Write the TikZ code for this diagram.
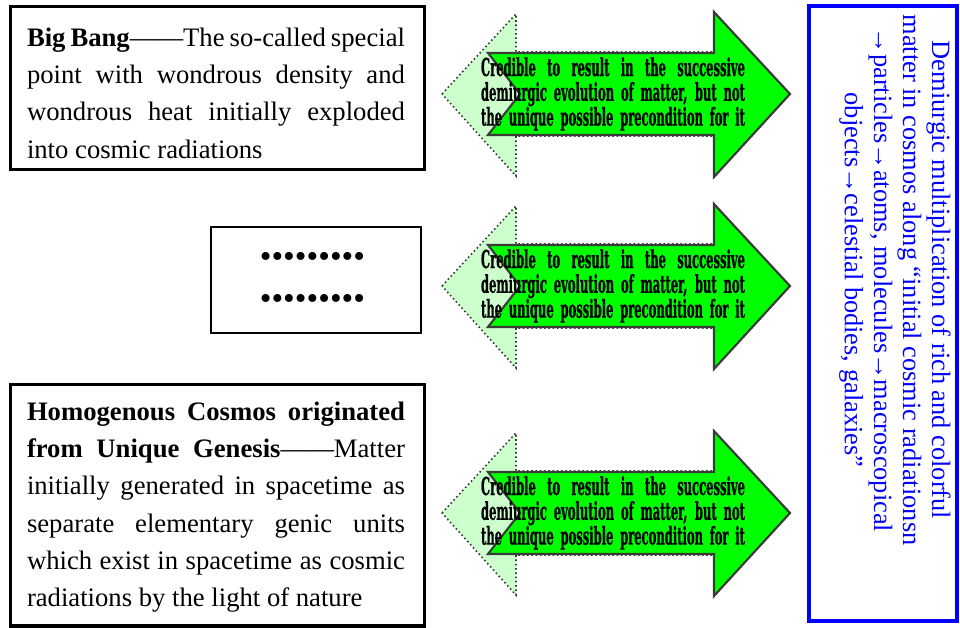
\documentclass[tikz,border=0pt]{standalone}
\usepackage{fontspec}
\setmainfont{Liberation Serif}
\newfontfamily\arrowfont{DejaVu Serif Condensed}[FakeStretch=0.52,FakeBold=0.5]
\definecolor{arrowgreen}{HTML}{00FF00}
\definecolor{palegreen}{HTML}{CCFFCC}
\definecolor{edgegray}{HTML}{3A3A3A}
\definecolor{pureblue}{HTML}{0000FF}
\newcommand\jline[2]{\makebox[#1][s]{#2}}
\newcommand\ninedots{\textbullet\hfill\textbullet\hfill\textbullet\hfill\textbullet\hfill\textbullet\hfill\textbullet\hfill\textbullet\hfill\textbullet\hfill\textbullet}
\tikzset{
  blackbox/.style={draw=black,line width=2.8pt},
  dotbox/.style={draw=black,line width=2pt},
  bluebox/.style={draw=pureblue,line width=2.3pt},
  backarrow/.style={fill=palegreen,draw=edgegray,line width=1.2pt,dotted},
  frontarrow/.style={fill=arrowgreen,draw=edgegray,line width=1.6pt,line join=miter},
  boxtext/.style={inner sep=0pt,align=left,font=\fontsize{20}{28}\selectfont},
  dottext/.style={inner sep=0pt,font=\fontsize{25}{25}\selectfont},
  arrowtext/.style={inner sep=0pt,align=center,font=\arrowfont\bfseries\fontsize{18.5}{18.6}\selectfont},
  bluetext/.style={inner sep=0pt,align=center,text=pureblue,rotate=-90,font=\fontsize{19.8}{21.8}\selectfont},
}
\begin{document}
\begin{tikzpicture}[x=0.75pt,y=-0.75pt]
\useasboundingbox (0,0) rectangle (960,628);
% boxes
\draw[blackbox] (10.5,6.5) rectangle (424.5,169.5);
\draw[dotbox] (211,227) rectangle (421,333);
\draw[blackbox] (10.5,384.5) rectangle (424.5,626);
\draw[bluebox] (809,6) rectangle (957,621);
% box texts
\node[boxtext] (bigbang) at (216,93) {%
\jline{283.5pt}{\textbf{Big Bang}——The so-called special}\\
\jline{283.5pt}{point with wondrous density and}\\
\jline{283.5pt}{wondrous heat initially exploded}\\
into cosmic radiations};
\node[boxtext] (cosmos) at (216,507) {%
\jline{283.5pt}{\textbf{Homogenous Cosmos originated}}\\
\jline{283.5pt}{\textbf{from Unique Genesis}——Matter}\\
\jline{283.5pt}{initially generated in spacetime as}\\
\jline{283.5pt}{separate elementary genic units}\\
\jline{283.5pt}{which exist in spacetime as cosmic}\\
radiations by the light of nature};
% dots
\node[dottext] (dotsA) at (312.5,260) {\makebox[79pt]{\ninedots}};
\node[dottext] (dotsB) at (312.5,302) {\makebox[79pt]{\ninedots}};
% arrows
\foreach \c/\n in {94/1,286/2,513/3}{
  \draw[backarrow] (442,\c) -- (516,\c-80) -- (516,\c-42) -- (714,\c-42) -- (714,\c+42) -- (516,\c+42) -- (516,\c+82) -- cycle;
  \draw[frontarrow] (488,\c-41) -- (714,\c-41) -- (714,\c-82) -- (790,\c) -- (714,\c+83) -- (714,\c+41) -- (488,\c+41) -- (520,\c) -- cycle;
  \node[arrowtext] (cred\n) at (613,\c) {%
  \jline{198pt}{Credible to result in the successive}\\
  \jline{198pt}{demiurgic evolution of matter, but not}\\
  \jline{198pt}{the unique possible precondition for it}};
}
% blue text
\node[bluetext] (demiurgic) at (895,280) {Demiurgic multiplication of rich and colorful\\
matter in cosmos along “initial cosmic radiationsn\\
→particles→atoms, molecules→macroscopical\\
objects→celestial bodies, galaxies”};
\end{tikzpicture}
\end{document}
